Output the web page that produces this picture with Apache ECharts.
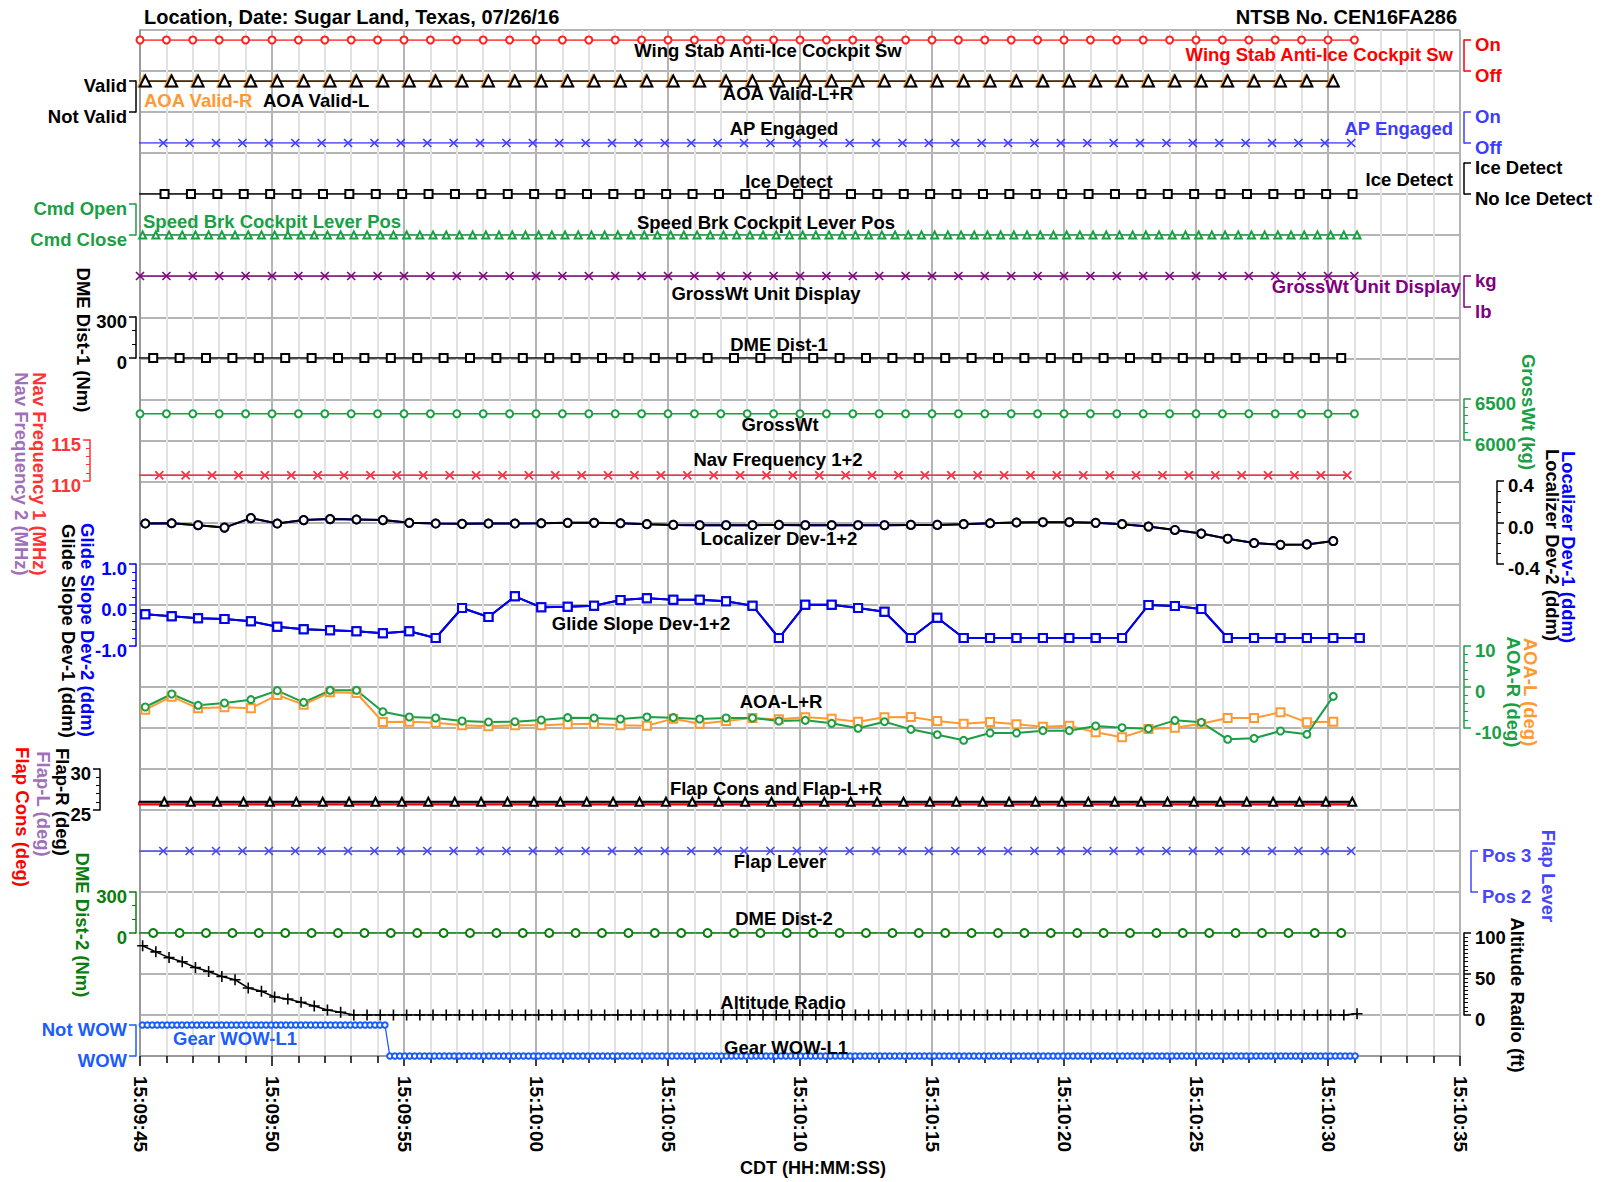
<!DOCTYPE html>
<html>
<head>
<meta charset="utf-8">
<title>CEN16FA286 flight data</title>
<script src="https://cdn.jsdelivr.net/npm/echarts@6/dist/echarts.min.js"></script>
<style>
  html, body { margin: 0; padding: 0; background: #fff; }
  #chart { width: 1602px; height: 1182px; }
</style>
</head>
<body>
<div id="chart"></div>
<script>
// ---------------------------------------------------------------------------
// Recorded parameters. Time is seconds after 15:09:45 CDT.
// ---------------------------------------------------------------------------
const timeTickLabels = ['15:09:45', '15:09:50', '15:09:55', '15:10:00', '15:10:05', '15:10:10',
  '15:10:15', '15:10:20', '15:10:25', '15:10:30', '15:10:35'];

// Discrete words, stored as runs of [state, number of samples]
const wingStabAntiIceSw = [[1, 47]];          // On
const aoaValidL = [[1, 46]];                  // Valid
const aoaValidR = [[1, 46]];                  // Valid
const apEngaged = [[0, 47]];                  // Off
const iceDetect = [[0, 47]];                  // No Ice Detect
const speedBrkLeverPos = [[0, 93]];           // Cmd Close
const grossWtUnitDisplay = [[1, 47]];         // kg
const flapLever = [[1, 47]];                  // Pos 3
const gearWowL1 = [[1, 50], [0, 196]];        // Not WOW, then WOW at touchdown

// Analog parameters that hold one reading over the interval (same run form)
const dmeDist1 = [[0, 47]];
const dmeDist2 = [[0, 47]];
const grossWt = [[6320, 47]];
const navFrequency1 = [[110.7, 47]];
const navFrequency2 = [[110.7, 47]];
const flapCons = [[25.8, 47]];
const flapL = [[25.9, 47]];
const flapR = [[26.0, 47]];

// Analog parameters, one value per sample
const localizerDev2 = [-0.01, -0.007, -0.026, -0.049, 0.042, -0.01, 0.023, 0.033, 0.029, 0.023,
  -0.003, -0.01, -0.013, -0.01, -0.01, -0.007, -0.003, -0.003, -0.007, -0.016,
  -0.023, -0.026, -0.026, -0.026, -0.023, -0.026, -0.026, -0.026, -0.026, -0.023,
  -0.023, -0.016, -0.007, 0.0, 0.003, 0.003, -0.003, -0.016, -0.039, -0.072,
  -0.107, -0.156, -0.198, -0.215, -0.211, -0.179];
// Dev-1 reads the same as Dev-2 throughout
const localizerDev1 = localizerDev2;

const glideSlopeDev2 = [-0.228, -0.276, -0.325, -0.341, -0.398, -0.528, -0.593, -0.618, -0.642, -0.691,
  -0.642, -0.805, -0.073, -0.293, 0.211, -0.057, -0.041, -0.016, 0.122, 0.163,
  0.130, 0.130, 0.089, -0.016, -0.805, 0.008, 0.008, -0.073, -0.163, -0.805,
  -0.309, -0.805, -0.805, -0.805, -0.805, -0.805, -0.805, -0.805, 0.0, -0.024,
  -0.098, -0.805, -0.805, -0.805, -0.805, -0.805, -0.805];
// Dev-1 reads the same as Dev-2 throughout
const glideSlopeDev1 = glideSlopeDev2;

const aoaLDeg = [-5.53, -2.36, -5.2, -4.96, -5.2, -1.95, -4.31, -1.3, -1.46, -8.54,
  -8.46, -8.7, -9.35, -9.59, -9.35, -9.35, -9.11, -8.94, -9.35, -9.43,
  -7.72, -8.94, -8.29, -7.56, -7.89, -7.40, -7.72, -8.46, -7.40, -7.32,
  -8.29, -8.94, -8.54, -9.11, -9.67, -9.43, -11.06, -12.28, -10.24, -9.92,
  -8.94, -7.56, -7.56, -6.18, -8.62, -8.46];

const aoaRDeg = [-4.88, -1.71, -4.47, -3.90, -3.09, -0.89, -3.74, -0.81, -0.81, -6.02,
  -7.32, -7.56, -8.29, -8.54, -8.46, -8.05, -7.48, -7.56, -7.80, -7.32,
  -7.48, -7.80, -7.56, -7.56, -8.29, -8.13, -8.86, -10.08, -8.46, -10.33,
  -11.63, -13.0, -11.22, -11.22, -10.65, -10.65, -9.51, -9.92, -10.16, -8.13,
  -8.62, -12.76, -12.52, -10.73, -11.54, -2.28];

const altitudeRadioFt = [84.5, 77, 70, 65, 58, 53, 47, 43, 33, 29,
  22, 19.5, 15.5, 11, 6, 3.3, 0, 0, 0, 0,
  0, 0, 0, 0, 0, 0, 0, 0, 0, 0,
  0, 0, 0, 0, 0, 0, 0, 0, 0, 0,
  0, 0, 0, 0, 0, 0, 0, 0, 0, 0,
  0, 0, 0, 0, 0, 0, 0, 0, 0, 0,
  0, 0, 0, 0, 0, 0, 0, 0, 0, 0,
  0, 0, 0, 0, 0, 0, 0, 0, 0, 0,
  0, 0, 0, 0, 0, 0, 0, 0, 0, 0,
  0, 0, 1.5];

// Sample clocks: [first sample time, sample interval] in seconds
const clocks = {
  wingStab: [0, 1], aoaValidL: [0.2, 1], aoaValidR: [0.15, 1], ap: [-0.12, 1], ice: [-0.07, 1],
  speedBrk: [0.1, 0.5], gwUnit: [0, 1], dme1: [-0.5, 1], gw: [0, 1], nav: [-0.27, 1],
  loc: [0.2, 1], gs: [0.2, 1], aoa: [0.2, 1], flap: [-0.08, 1], flapLever: [-0.12, 1],
  dme2: [-0.5, 1], alt: [0.1, 0.5], wow: [0.09, 0.1875]
};

// ---------------------------------------------------------------------------
// Layout
// ---------------------------------------------------------------------------
const FONT = '"Liberation Sans", Arial, Helvetica, sans-serif';
const PLOT = { left: 140, top: 30, width: 1320, height: 1026, rows: 25 };
const rowY = r => PLOT.top + PLOT.height * r / PLOT.rows;

const BLACK = '#000000';
const RED = '#ff0000';
const ORANGE = '#ff9a33';
const GREEN = '#1a9f45';
const DKGREEN = '#0b7d0b';
const PURPLE = '#7f007f';
const LILAC = '#a070b8';

// One strip per axis; rows are counted from the top of the plot
const panels = [
  { key: 'wing', rows: [0.25, 1], side: 'right', offset: 4, color: RED, states: ['Off', 'On'] },
  { key: 'aoaValid', rows: [1.25, 2], side: 'left', offset: 4, color: BLACK, states: ['Not Valid', 'Valid'] },
  { key: 'ap', rows: [2, 2.75], side: 'right', offset: 4, color: '#3c3cff', states: ['Off', 'On'] },
  { key: 'ice', rows: [3.25, 4], side: 'right', offset: 4, color: BLACK, states: ['No Ice Detect', 'Ice Detect'] },
  { key: 'speedBrk', rows: [4.25, 5], side: 'left', offset: 4, color: GREEN, states: ['Cmd Close', 'Cmd Open'] },
  { key: 'gwUnit', rows: [6, 6.75], side: 'right', offset: 4, color: PURPLE, states: ['lb', 'kg'] },
  { key: 'dme1', rows: [7, 8], side: 'left', offset: 4, color: BLACK, min: 0, max: 300, interval: 300, minor: 3 },
  { key: 'gw', rows: [9, 10], side: 'right', offset: 4, color: GREEN, min: 6000, max: 6500, interval: 500, minor: 5 },
  { key: 'nav', rows: [10, 11], side: 'left', offset: 50, color: '#ff3333', min: 110, max: 115, interval: 5, minor: 5 },
  { key: 'loc', rows: [11, 13], side: 'right', offset: 37, color: BLACK, min: -0.4, max: 0.4, interval: 0.4, minor: 4, digits: 1 },
  { key: 'gs', rows: [13, 15], side: 'left', offset: 4, color: '#0000ff', min: -1, max: 1, interval: 1, minor: 5, digits: 1 },
  { key: 'aoa', rows: [15, 17], side: 'right', offset: 4, color: GREEN, min: -10, max: 10, interval: 10, minor: 5 },
  { key: 'flap', rows: [18, 19], side: 'left', offset: 40, color: BLACK, min: 25, max: 30, interval: 5, minor: 5 },
  { key: 'flapLever', rows: [20, 21], side: 'right', offset: 11, color: '#4646ff', states: ['Pos 2', 'Pos 3'] },
  { key: 'dme2', rows: [21, 22], side: 'left', offset: 4, color: DKGREEN, min: 0, max: 300, interval: 300, minor: 3 },
  { key: 'alt', rows: [22, 24], side: 'right', offset: 4, color: BLACK, min: 0, max: 100, interval: 50, minor: 10 },
  { key: 'wow', rows: [24.25, 25], side: 'left', offset: 4, color: '#1a5cff', states: ['WOW', 'Not WOW'] }
];

const SYM_X = 'path://M0,0L10,10M10,0L0,10';
const SYM_PLUS = 'path://M5,0L5,10M0,5L10,5';

// [panel, values, clock, colour, symbol, symbol size, line width]
const traces = [
  ['wing', wingStabAntiIceSw, 'wingStab', '#ff2020', 'emptyCircle', 7, 1.5],
  ['aoaValid', aoaValidR, 'aoaValidR', ORANGE, 'emptyTriangle', 11, 1.5],
  ['aoaValid', aoaValidL, 'aoaValidL', BLACK, 'emptyTriangle', 11, 1.5],
  ['ap', apEngaged, 'ap', '#3c3cff', SYM_X, 8, 1.5],
  ['ice', iceDetect, 'ice', BLACK, 'emptyRect', 8, 1.5],
  ['speedBrk', speedBrkLeverPos, 'speedBrk', GREEN, 'emptyTriangle', 7, 1.5],
  ['gwUnit', grossWtUnitDisplay, 'gwUnit', PURPLE, SYM_X, 8, 1.5],
  ['dme1', dmeDist1, 'dme1', BLACK, 'emptyRect', 8, 1.5],
  ['gw', grossWt, 'gw', GREEN, 'emptyCircle', 7, 1.5],
  ['nav', navFrequency2, 'nav', LILAC, SYM_X, 8, 1.5],
  ['nav', navFrequency1, 'nav', '#ff3333', SYM_X, 8, 1.5],
  ['loc', localizerDev1, 'loc', '#0000ff', 'emptyCircle', 8, 2],
  ['loc', localizerDev2, 'loc', BLACK, 'emptyCircle', 8, 2],
  ['gs', glideSlopeDev1, 'gs', BLACK, 'emptyRect', 8, 2],
  ['gs', glideSlopeDev2, 'gs', '#0000ff', 'emptyRect', 8, 2],
  ['aoa', aoaLDeg, 'aoa', ORANGE, 'emptyRect', 8, 2],
  ['aoa', aoaRDeg, 'aoa', GREEN, 'emptyCircle', 7, 2],
  ['flap', flapCons, 'flap', RED, 'circle', 6, 4],
  ['flap', flapL, 'flap', LILAC, 'none', 0, 2],
  ['flap', flapR, 'flap', BLACK, 'emptyTriangle', 8, 2],
  ['flapLever', flapLever, 'flapLever', '#4646ff', SYM_X, 8, 1.5],
  ['dme2', dmeDist2, 'dme2', DKGREEN, 'emptyCircle', 8, 1.5],
  ['alt', altitudeRadioFt, 'alt', BLACK, SYM_PLUS, 11, 1.5],
  ['wow', gearWowL1, 'wow', '#1a5cff', 'emptyCircle', 5.5, 1.3]
];

// Panel captions inside the plot (centred)
const captions = [
  ['Wing Stab Anti-Ice Cockpit Sw', 768, 50], ['AOA Valid-L+R', 788, 93], ['AP Engaged', 784, 128],
  ['Ice Detect', 789, 181], ['Speed Brk Cockpit Lever Pos', 766, 222], ['GrossWt Unit Display', 766, 293],
  ['DME Dist-1', 779, 344], ['GrossWt', 780, 424], ['Nav Frequency 1+2', 778, 459],
  ['Localizer Dev-1+2', 779, 538], ['Glide Slope Dev-1+2', 641, 623], ['AOA-L+R', 781, 701],
  ['Flap Cons and Flap-L+R', 776, 788], ['Flap Lever', 780, 861], ['DME Dist-2', 784, 918],
  ['Altitude Radio', 783, 1002], ['Gear WOW-L1', 786, 1047]
];

// Coloured trace keys inside the plot: [text, x, y, colour, align]
const traceKeys = [
  ['Wing Stab Anti-Ice Cockpit Sw', 1453, 54, RED, 'right'],
  ['AOA Valid-R', 144, 100, ORANGE, 'left'],
  ['AOA Valid-L', 263, 100, BLACK, 'left'],
  ['AP Engaged', 1453, 128, '#3c3cff', 'right'],
  ['Ice Detect', 1453, 179, BLACK, 'right'],
  ['Speed Brk Cockpit Lever Pos', 143, 221, GREEN, 'left'],
  ['GrossWt Unit Display', 1461, 286, PURPLE, 'right'],
  ['Gear WOW-L1', 173, 1038, '#1a5cff', 'left']
];

// Vertical axis titles (read top to bottom): [text, x, y, colour]
const axisTitles = [
  ['DME Dist-1 (Nm)', 83, 340, BLACK],
  ['Nav Frequency 1 (MHz)', 39, 474, '#ff3333'],
  ['Nav Frequency 2 (MHz)', 21, 474, LILAC],
  ['Glide Slope Dev-2 (ddm)', 87, 630, '#0000ff'],
  ['Glide Slope Dev-1 (ddm)', 68, 631, BLACK],
  ['Flap-R (deg)', 62, 802, BLACK],
  ['Flap-L (deg)', 43, 804, LILAC],
  ['Flap Cons (deg)', 22, 817, RED],
  ['DME Dist-2 (Nm)', 82, 925, DKGREEN],
  ['GrossWt (kg)', 1528, 412, GREEN],
  ['Localizer Dev-1 (ddm)', 1568, 547, '#0000ff'],
  ['Localizer Dev-2 (ddm)', 1552, 545, BLACK],
  ['AOA-L (deg)', 1530, 692, ORANGE],
  ['AOA-R (deg)', 1513, 692, GREEN],
  ['Flap Lever', 1548, 876, '#4646ff'],
  ['Altitude Radio (ft)', 1517, 995, BLACK]
];

// ---------------------------------------------------------------------------
// Helpers
// ---------------------------------------------------------------------------
function expandRuns(values) {
  if (!Array.isArray(values[0])) return values;
  const out = [];
  values.forEach(([v, n]) => { for (let i = 0; i < n; i++) out.push(v); });
  return out;
}
function toPoints(values, clock) {
  const [t0, dt] = clocks[clock];
  return expandRuns(values).map((v, i) => [+(t0 + i * dt).toFixed(4), v]);
}
const textStyle = (size, color) => ({
  fontFamily: FONT, fontSize: size, fontWeight: 'bold', fill: color
});

// ---------------------------------------------------------------------------
// Option
// ---------------------------------------------------------------------------
const grids = [{ left: PLOT.left, top: PLOT.top, width: PLOT.width, height: PLOT.height }];
const xAxes = [{
  gridIndex: 0, type: 'value', min: 0, max: 50, interval: 5,
  axisLine: { show: true, lineStyle: { color: '#9a9a9a', width: 2 } },
  axisTick: { show: true, length: 10, lineStyle: { color: '#000', width: 1.5 } },
  minorTick: { show: true, splitNumber: 5, length: 7, lineStyle: { color: '#000', width: 1.5 } },
  axisLabel: {
    rotate: -90, margin: 20, color: '#000', fontFamily: FONT, fontSize: 19, fontWeight: 'bold',
    formatter: v => timeTickLabels[Math.round(v / 5)]
  },
  splitLine: { show: true, lineStyle: { color: '#b4b4b4', width: 2 } },
  minorSplitLine: { show: true, lineStyle: { color: '#e2e2e2', width: 2 } }
}];
const yAxes = [{
  gridIndex: 0, type: 'value', min: 0, max: PLOT.rows, interval: 1,
  axisLine: { show: true, lineStyle: { color: '#9a9a9a', width: 2 } },
  axisTick: { show: false }, axisLabel: { show: false },
  splitLine: { show: true, lineStyle: { color: '#b4b4b4', width: 2 } }
}];

const panelIndex = {};
panels.forEach((p, i) => {
  const gi = i + 1;
  panelIndex[p.key] = gi;
  const top = Math.round(rowY(p.rows[0]));
  const bottom = Math.round(rowY(p.rows[1]));
  grids.push({ left: PLOT.left, top: top, width: PLOT.width, height: bottom - top });
  xAxes.push({ gridIndex: gi, type: 'value', min: 0, max: 50, show: false });
  const discrete = !!p.states;
  yAxes.push({
    gridIndex: gi, type: 'value', position: p.side, offset: p.offset,
    min: discrete ? 0 : p.min, max: discrete ? 1 : p.max, interval: discrete ? 1 : p.interval,
    axisLine: { show: true, onZero: false, lineStyle: { color: p.color, width: 1.5 } },
    axisTick: { show: true, length: 7, lineStyle: { color: p.color, width: 1.5 } },
    minorTick: discrete ? { show: false } :
      { show: true, splitNumber: p.minor, length: 4, lineStyle: { color: p.color, width: 1 } },
    splitLine: { show: false },
    axisLabel: {
      show: true, color: p.color, fontFamily: FONT, fontSize: 18.5, fontWeight: 'bold',
      margin: p.side === 'left' ? 9 : 11,
      // a short line box hung from the tick drops the label a few pixels below it
      verticalAlign: 'top', lineHeight: 9,
      formatter: v => {
        if (discrete) return p.states[Math.round(v)];
        const val = Math.abs(v) < 1e-9 ? 0 : v;
        return val.toFixed(p.digits || 0);
      }
    }
  });
});

const series = traces.map(([panel, values, clock, color, symbol, size, width]) => {
  const gi = panelIndex[panel];
  const isPath = symbol.indexOf('path://') === 0;
  return {
    type: 'line', xAxisIndex: gi, yAxisIndex: gi,
    data: toPoints(values, clock),
    symbol: symbol, symbolSize: size, showSymbol: symbol !== 'none',
    lineStyle: { color: color, width: width },
    itemStyle: isPath
      ? { color: color, borderColor: color, borderWidth: 1.6 }
      : { color: color, borderWidth: symbol.indexOf('empty') === 0 ? 1.6 : 0 },
    clip: panel !== 'aoa',
    animation: false, silent: true
  };
});

const graphics = [];
graphics.push({ type: 'text', x: 144, y: 17, z: 100, silent: true,
  style: Object.assign({ text: 'Location, Date: Sugar Land, Texas, 07/26/16', align: 'left', verticalAlign: 'middle',
    textAlign: 'left', textVerticalAlign: 'middle' }, textStyle(20, '#000')) });
graphics.push({ type: 'text', x: 1457, y: 17, z: 100, silent: true,
  style: Object.assign({ text: 'NTSB No. CEN16FA286', align: 'right', verticalAlign: 'middle',
    textAlign: 'right', textVerticalAlign: 'middle' }, textStyle(20, '#000')) });
graphics.push({ type: 'text', x: 813, y: 1168, z: 100, silent: true,
  style: Object.assign({ text: 'CDT (HH:MM:SS)', align: 'center', verticalAlign: 'middle',
    textAlign: 'center', textVerticalAlign: 'middle' }, textStyle(18, '#000')) });
captions.forEach(([text, x, y]) => graphics.push({
  type: 'text', x: x, y: y, z: 100, silent: true,
  style: Object.assign({ text: text, align: 'center', verticalAlign: 'middle',
    textAlign: 'center', textVerticalAlign: 'middle' }, textStyle(18.5, '#000'))
}));
traceKeys.forEach(([text, x, y, color, align]) => graphics.push({
  type: 'text', x: x, y: y, z: 100, silent: true,
  style: Object.assign({ text: text, align: align, verticalAlign: 'middle',
    textAlign: align, textVerticalAlign: 'middle' }, textStyle(18.5, color))
}));
axisTitles.forEach(([text, x, y, color]) => graphics.push({
  type: 'text', x: x, y: y, rotation: -Math.PI / 2, z: 100, silent: true,
  style: Object.assign({ text: text, align: 'center', verticalAlign: 'middle',
    textAlign: 'center', textVerticalAlign: 'middle' }, textStyle(18.5, color))
}));

const chart = echarts.init(document.getElementById('chart'), null, { renderer: 'svg' });
chart.setOption({
  backgroundColor: '#ffffff',
  animation: false,
  grid: grids,
  xAxis: xAxes,
  yAxis: yAxes,
  series: series,
  graphic: { elements: graphics }
});
</script>
</body>
</html>
